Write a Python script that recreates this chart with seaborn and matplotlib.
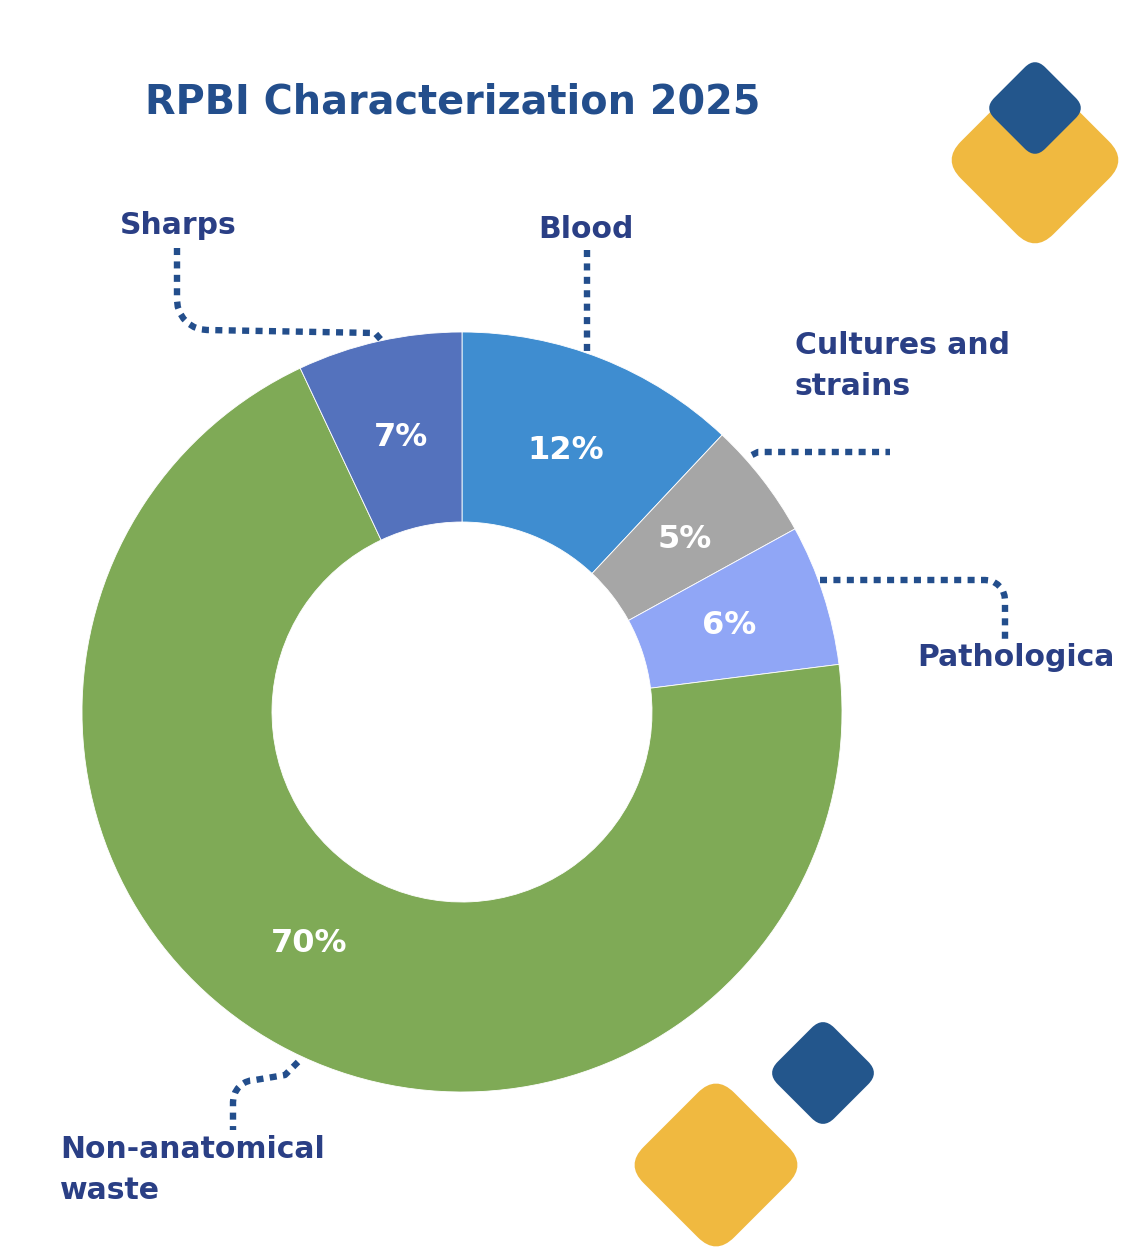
import matplotlib
matplotlib.use("Agg")
import matplotlib.pyplot as plt
import seaborn as sns
import numpy as np
from matplotlib.patches import FancyBboxPatch
from matplotlib.transforms import Affine2D

# data
categories = ["Blood", "Cultures and\nstrains", "Pathologica", "Non-anatomical\nwaste", "Sharps"]
shares = [12, 5, 6, 70, 7]
slice_colors = ["#3f8dd0", "#a6a6a6", "#90a6f6", "#7faa56", "#5472bd"]
title = "RPBI Characterization 2025"

W, H = 1146, 1252
NAVY = "#234e8c"
LABEL = "#2a3f85"

sns.set_theme(style="white")
plt.rcParams["font.family"] = ["DejaVu Sans"]

fig = plt.figure(figsize=(W / 100, H / 100), dpi=100)
ax = fig.add_axes([0, 0, 1, 1])

cx, cy, R = 462, H - 712, 380
wedges, _, pcts = ax.pie(
    shares, colors=slice_colors, startangle=90, counterclock=False,
    center=(cx, cy), radius=R, autopct=lambda p: f"{p:.0f}%", pctdistance=0.74,
    wedgeprops=dict(width=190, edgecolor="white", linewidth=0.6),
    textprops=dict(color="white", fontsize=23, fontweight="bold"),
)
# the big slice label sits a little off the mid-angle in the original
px, py = pcts[3].get_position()
pcts[3].set_position((px - 17, py + 15))

ax.set_xlim(0, W)
ax.set_ylim(0, H)
ax.set_aspect("equal")
ax.axis("off")


def leader(pts):
    xs = [p[0] for p in pts]
    ys = [H - p[1] for p in pts]
    ax.plot(xs, ys, color=NAVY, lw=4.6, dashes=(1.1, 1.0), solid_capstyle="butt",
            dash_capstyle="butt", zorder=1)


def arc(x0, y0, rad, a0, a1, n=8):
    t = np.radians(np.linspace(a0, a1, n))
    return [(x0 + rad * np.cos(a), y0 - rad * np.sin(a)) for a in t]


# leader lines (decoration)
leader([(177, 248), (177, 300)] + arc(207, 300, 30, 180, 270) + [(375, 333), (383, 342)])
leader([(587, 250), (587, 355)])
leader([(752, 455), (758, 452), (890, 452)])
leader([(820, 580), (985, 580)] + arc(985, 600, 20, 90, 0) + [(1005, 642)])
leader([(298, 1062)] + [(285, 1075), (255, 1080)] + arc(255, 1102, 22, 90, 180) + [(233, 1130)])

# labels
ax.text(145, H - 102, title, fontsize=28.6, fontweight="bold", color=NAVY, va="center", ha="left")
lab_pos = {
    "Blood": (538, 230, "left"),
    "Cultures and\nstrains": (795, 366, "left"),
    "Pathologica": (917, 658, "left"),
    "Non-anatomical\nwaste": (60, 1170, "left"),
    "Sharps": (120, 225, "left"),
}
for name in categories:
    x, y, ha = lab_pos[name]
    ax.text(x, H - y, name, fontsize=21.5, fontweight="bold", color=LABEL,
            ha=ha, va="center", linespacing=1.55)


def diamond(x0, y0, side, color, z):
    r = 0.2 * side
    p = FancyBboxPatch((x0 - side / 2 + r, H - y0 - side / 2 + r), side - 2 * r, side - 2 * r,
                       boxstyle=f"round,pad={r},rounding_size={r}", fc=color, ec="none", zorder=z)
    p.set_transform(Affine2D().rotate_deg_around(x0, H - y0, 45) + ax.transData)
    ax.add_patch(p)


diamond(1035, 160, 131, "#f0b940", 3)
diamond(1035, 108, 72, "#23568c", 4)
diamond(716, 1165, 128, "#f0b940", 3)
diamond(823, 1073, 80, "#23568c", 4)

fig.savefig("out.png", dpi=100, facecolor="white")
